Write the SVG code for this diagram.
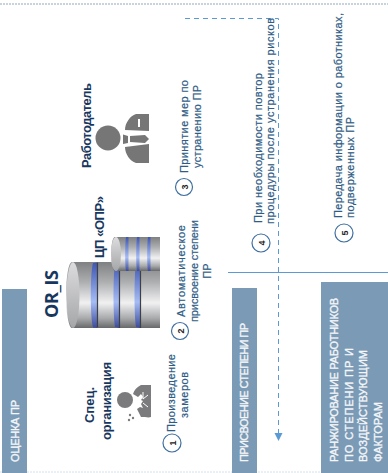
<svg xmlns="http://www.w3.org/2000/svg" width="388" height="473" viewBox="0 0 388 473">
<style>
text{font-family:"Liberation Sans",Arial,sans-serif}
.band{fill:#7a9ab5}
.w{fill:#f4f6f9;font-size:11px;stroke:#f4f6f9;stroke-width:.35}
.l{fill:#2f5c85;font-size:11px;stroke:#2f5c85;stroke-width:.2}
.b{fill:#17375e;font-weight:bold;font-size:13px}
.c{fill:#fff;stroke:#3f6f9f;stroke-width:1.2}
.n{fill:#222;font-size:9px;font-weight:bold;text-anchor:middle}
.g{fill:#7b7b7d}
.dash{fill:none;stroke:#5b9bd5;stroke-width:1;stroke-dasharray:5 4}
.bd{fill:url(#barrel)}
.face{fill:url(#face)}
.ring{fill:url(#ring)}
</style>
<defs>
<linearGradient id="barrel" x1="0" y1="0" x2="0" y2="1"><stop offset="0" stop-color="#7f8082"/><stop offset=".3" stop-color="#adaeb0"/><stop offset=".62" stop-color="#f1f1f2"/><stop offset=".85" stop-color="#a9aaac"/><stop offset="1" stop-color="#68696b"/></linearGradient>
<linearGradient id="ring" x1="0" y1="0" x2="0" y2="1"><stop offset="0" stop-color="#3d55b0"/><stop offset=".6" stop-color="#a6bcf5"/><stop offset="1" stop-color="#3a4a9a"/></linearGradient>
<linearGradient id="face" x1="0" y1="0" x2="0" y2="1"><stop offset="0" stop-color="#dcdcde"/><stop offset="1" stop-color="#a5a6a8"/></linearGradient>
</defs>
<rect width="388" height="473" fill="#fff"/>
<path d="M0 4H388" stroke="#8fa9bf" stroke-width="1" stroke-dasharray="2 1" fill="none"/>
<path d="M0 472H388" stroke="#d5e0ea" stroke-width="1" stroke-dasharray="2 1" fill="none"/>

<g id="connectors">
<path d="M228 272.500H388" stroke="#5b9bd5" stroke-width="1" fill="none"/>
<path class="dash" d="M185 18.500H278.500V433"/>
<path d="M274.500 433H282.500L278.500 441Z" fill="#5b9bd5"/>
</g>

<g id="phase-1"><rect class="band" x="2" y="289" width="25" height="184"/>
<text class="w" transform="translate(19 462) rotate(-90)" textLength="62">ОЦЕНКА ПР</text></g>
<g id="phase-2"><rect class="band" x="232" y="288" width="25" height="185"/>
<text class="w" transform="translate(248 462) rotate(-90)" textLength="139">ПРИСВОЕНИЕ СТЕПЕНИ ПР</text></g>
<g id="phase-3"><rect class="band" x="321" y="282" width="67" height="191"/>
<text class="w" transform="translate(338 462) rotate(-90)" textLength="164">РАНЖИРОВАНИЕ РАБОТНИКОВ</text>
<text class="w" transform="translate(353 462) rotate(-90)" textLength="114">ПО СТЕПЕНИ ПР И</text>
<text class="w" transform="translate(367 462) rotate(-90)" textLength="112">ВОЗДЕЙСТВУЮЩИМ</text>
<text class="w" transform="translate(382 462) rotate(-90)" textLength="60">ФАКТОРАМ</text></g>

<g id="or-is">
<text transform="translate(58 318) rotate(-90)" fill="#17375e" font-size="18" font-weight="bold" style="font-family:'Open Sans',sans-serif" textLength="48">OR_IS</text>
<path class="bd" d="M72 262H160V328H72A6 33 0 0 1 72 262Z"/>
<ellipse class="face" cx="73" cy="295" rx="6.500" ry="33"/>
<path class="ring" d="M93 263l4 -.5v65.500l-4-.5c-3-10-3-54 0-64.500Z"/>
<path class="ring" d="M115 264l4-1v65l-4-1c-2-10-2-53 0-63Z"/>
<path class="ring" d="M136 264l4-1v65l-4-1c-2-10-2-53 0-63Z"/>
<path d="M97.500 262.500v65M119.500 263v65M140.500 263v65" stroke="#3f4044" stroke-width="1.200" fill="none"/>
</g>
<g id="cp-opr">
<path class="bd" d="M115 237H160V271H115A4 17 0 0 1 115 237Z"/>
<ellipse class="face" cx="116" cy="254" rx="5" ry="17"/>
<path class="ring" d="M126 237h2.500v34h-2.500c-1-6-1-28 0-34ZM137 237h2.500v34h-2.500c-1-6-1-28 0-34ZM148 237h2.500v34h-2.500c-1-6-1-28 0-34Z"/>
<text class="b" transform="translate(104 258) rotate(-90)" textLength="62">ЦП «ОПР»</text>
</g>

<g id="spec-org">
<text class="b" transform="translate(94 405) rotate(-90)" text-anchor="middle">Спец.</text>
<text class="b" transform="translate(111 401) rotate(-90)" text-anchor="middle" textLength="78">организация</text>
<circle class="g" cx="125" cy="400" r="8"/>
<path class="g" d="M151 385h-10c-4 2-7 5-8 9l5 3 3-3 2 3-2 3 2 1-2 3 2 4-3-1-3 2 4 8c4 0 8 1 10 0Z"/>
<path d="M143 392v7M143 403l5 4M148 395l-5 4" stroke="#fff" stroke-width="1" fill="none"/>
<circle class="g" cx="130" cy="415" r="1.200"/><circle class="g" cx="133" cy="418" r="1.200"/><circle class="g" cx="129" cy="420" r="1.200"/>
</g>

<g id="employer">
<text class="b" transform="translate(91 168) rotate(-90)" textLength="85">Работодатель</text>
<circle cx="108" cy="138" r="12.500" fill="#767676"/>
<path d="M149 114h-13c-6 2-11 9-11 16l24 1ZM149 144v19h-13c-6-2-11-9-11-16Z" fill="#767676"/>
<path d="M123 134.500l5 1.500v7l-5 1ZM130 136l15-1 4 4-4 4-15-1Z" fill="#767676"/>
<rect x="138" y="119" width="2" height="8" fill="#fff"/>
</g>

<g id="step-1"><circle class="c" cx="172" cy="443" r="9"/><text class="n" transform="translate(175.500 443) rotate(-90)">1</text>
<text class="l" transform="translate(175 432) rotate(-90)" textLength="78">Произведение</text>
<text class="l" transform="translate(188 395) rotate(-90)" text-anchor="middle" textLength="46">замеров</text></g>
<g id="step-2"><circle class="c" cx="180" cy="331" r="8.500"/><text class="n" transform="translate(183.500 331) rotate(-90)">2</text>
<text class="l" transform="translate(185 271) rotate(-90)" text-anchor="middle" textLength="92">Автоматическое</text>
<text class="l" transform="translate(198 271) rotate(-90)" text-anchor="middle" textLength="102">присвоение степени</text>
<text class="l" transform="translate(211 271) rotate(-90)" text-anchor="middle">ПР</text></g>
<g id="step-3"><circle class="c" cx="184" cy="187" r="8.500"/><text class="n" transform="translate(187.500 187) rotate(-90)">3</text>
<text class="l" transform="translate(188 173) rotate(-90)" textLength="93">Принятие мер по</text>
<text class="l" transform="translate(201 168) rotate(-90)" textLength="83">устранению ПР</text></g>
<g id="step-4"><circle class="c" cx="261" cy="243" r="9"/><text class="n" transform="translate(264.500 243) rotate(-90)">4</text>
<text class="l" transform="translate(262 223) rotate(-90)" textLength="150">При необходимости повтор</text>
<text class="l" transform="translate(274 224) rotate(-90)" textLength="206">процедуры после устранения рисков</text></g>
<g id="step-5"><circle class="c" cx="344" cy="233" r="9"/><text class="n" transform="translate(347.500 233) rotate(-90)">5</text>
<text class="l" transform="translate(342 218) rotate(-90)" textLength="205">Передача информации о работниках,</text>
<text class="l" transform="translate(354 218) rotate(-90)" textLength="101">подверженных ПР</text></g>
</svg>
